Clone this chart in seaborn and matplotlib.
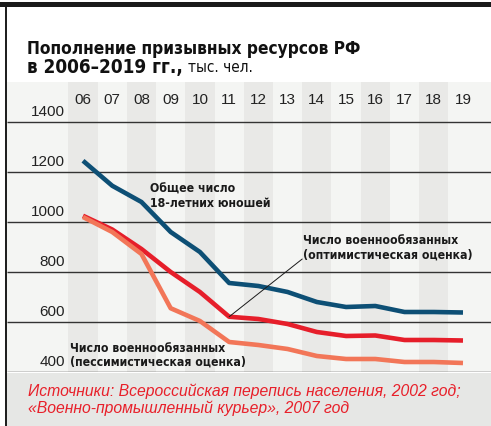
"""
Пополнение призывных ресурсов РФ в 2006-2019 гг.
"""

import numpy as np
import pandas as pd
import matplotlib.pyplot as plt
import seaborn as sns
from matplotlib import font_manager as fm

sns.set_theme(style="white")
plt.rcParams["font.family"] = ["Liberation Sans", "DejaVu Sans"]

# ========== данные ==========
years = ["06", "07", "08", "09", "10", "11", "12", "13", "14", "15", "16", "17", "18", "19"]
total_youth = [1245, 1145, 1080, 960, 880, 756, 744, 720, 680, 660, 664, 640, 640, 638]
optimistic = [1025, 970, 892, 800, 720, 621, 612, 592, 560, 544, 546, 528, 528, 526]
pessimistic = [1020, 960, 872, 655, 604, 520, 508, 492, 464, 452, 452, 440, 440, 436]
y_ticks = [400, 600, 800, 1000, 1200, 1400]

series_names = ["total", "opt", "pess"]
palette = {"total": "#0d4f75", "opt": "#e61e2a", "pess": "#f27658"}

df = pd.DataFrame({
    "x": list(range(len(years))) * 3,
    "value": total_youth + optimistic + pessimistic,
    "series": np.repeat(series_names, len(years)),
})


# ========== шрифты: DejaVu Sans Condensed, если есть ==========
def find_font(name, fallback_weight):
    for f in fm.fontManager.ttflist:
        if f.fname.endswith(name):
            return fm.FontProperties(fname=f.fname)
    return fm.FontProperties(family="DejaVu Sans", weight=fallback_weight)


cond_bold = find_font("DejaVuSansCondensed-Bold.ttf", "bold")
cond_reg = find_font("DejaVuSansCondensed.ttf", "normal")


def fp(base, size):
    p = base.copy()
    p.set_size(size)
    return p


W, H = 491, 427
fig = plt.figure(figsize=(W / 100, H / 100), dpi=100)
fig.patch.set_facecolor("white")


def fx(px):
    return px / W


def fy(py):
    return 1 - py / H


# верхняя черная полоса, левая рамка, подвал
fig.add_artist(plt.Rectangle((0, fy(8)), 1, fy(3) - fy(8), transform=fig.transFigure,
                             color="#1a1a1a", lw=0))
fig.add_artist(plt.Rectangle((fx(7), 0), 1, fy(374), transform=fig.transFigure,
                             color="#e6e7e5", lw=0))
fig.add_artist(plt.Line2D([fx(6), fx(6)], [0, fy(8)], transform=fig.transFigure,
                          color="#1a1a1a", lw=1.4))

# ========== график ==========
ax = fig.add_axes([fx(7), fy(373), fx(491 - 7), fy(83) - fy(373)])
ax.set_facecolor("#f4f5f3")
step = 29.23
ax.set_xlim((7 - 83) / step, (491 - 83) / step)
ax.set_ylim(400, 1560)

for i in range(len(years)):
    if i % 2 == 0:
        ax.axvspan(i - 0.5, i + 0.5, color="#e9e9e7", lw=0, zorder=0)
    ax.text(i, 1492, years[i], ha="center", va="center", fontsize=11, color="#222222")

for v in y_ticks:
    ax.axhline(v, color="#333333", lw=1.0, zorder=1)
    ax.text(-0.62, v + 44, str(v), ha="right", va="center", fontsize=11, color="#222222")

sns.lineplot(data=df, x="x", y="value", hue="series", palette=palette,
             linewidth=3.3, legend=False, ax=ax, zorder=3)
for line in ax.get_lines():
    line.set_solid_capstyle("butt")
    line.set_solid_joinstyle("round")

ax.set_xlabel("")
ax.set_ylabel("")
ax.set_xticks([])
ax.set_yticks([])
for s in ax.spines.values():
    s.set_visible(False)

ann = dict(fontproperties=fp(cond_bold, 8.8), va="center", ha="left",
           linespacing=1.1, color="#1a1a1a")
ax.text(2.29, 1106, "Общее число\n18-летних юношей", **ann)
ax.text(7.53, 900, "Число военнообязанных\n(оптимистическая оценка)", **ann)
ax.plot([7.5, 5.0], [852, 621], color="#1a1a1a", lw=0.7, zorder=4)
ax.text(-0.45, 470, "Число военнообязанных\n(пессимистическая оценка)", **ann)

# ========== заголовок ==========
fig.text(fx(27), fy(49), "Пополнение призывных ресурсов РФ", fontproperties=fp(cond_bold, 12.4),
         va="center", ha="left", color="#111111")
t2 = fig.text(fx(27), fy(67.5), "в 2006–2019 гг.,", fontproperties=fp(cond_bold, 13.6),
              va="center", ha="left", color="#111111")
fig.canvas.draw()
x_end = t2.get_window_extent().x1
fig.text((x_end + 5) / W, fy(67.5), "тыс. чел.", fontproperties=fp(cond_reg, 11),
         va="center", ha="left", color="#111111")

# ========== подвал ==========
fig.text(fx(28), fy(399.5), "Источники: Всероссийская перепись населения, 2002 год;\n"
         "«Военно-промышленный курьер», 2007 год", fontsize=11.3, style="italic",
         color="#e8202a", va="center", ha="left", linespacing=1.1)

fig.savefig("out.png", dpi=100)
